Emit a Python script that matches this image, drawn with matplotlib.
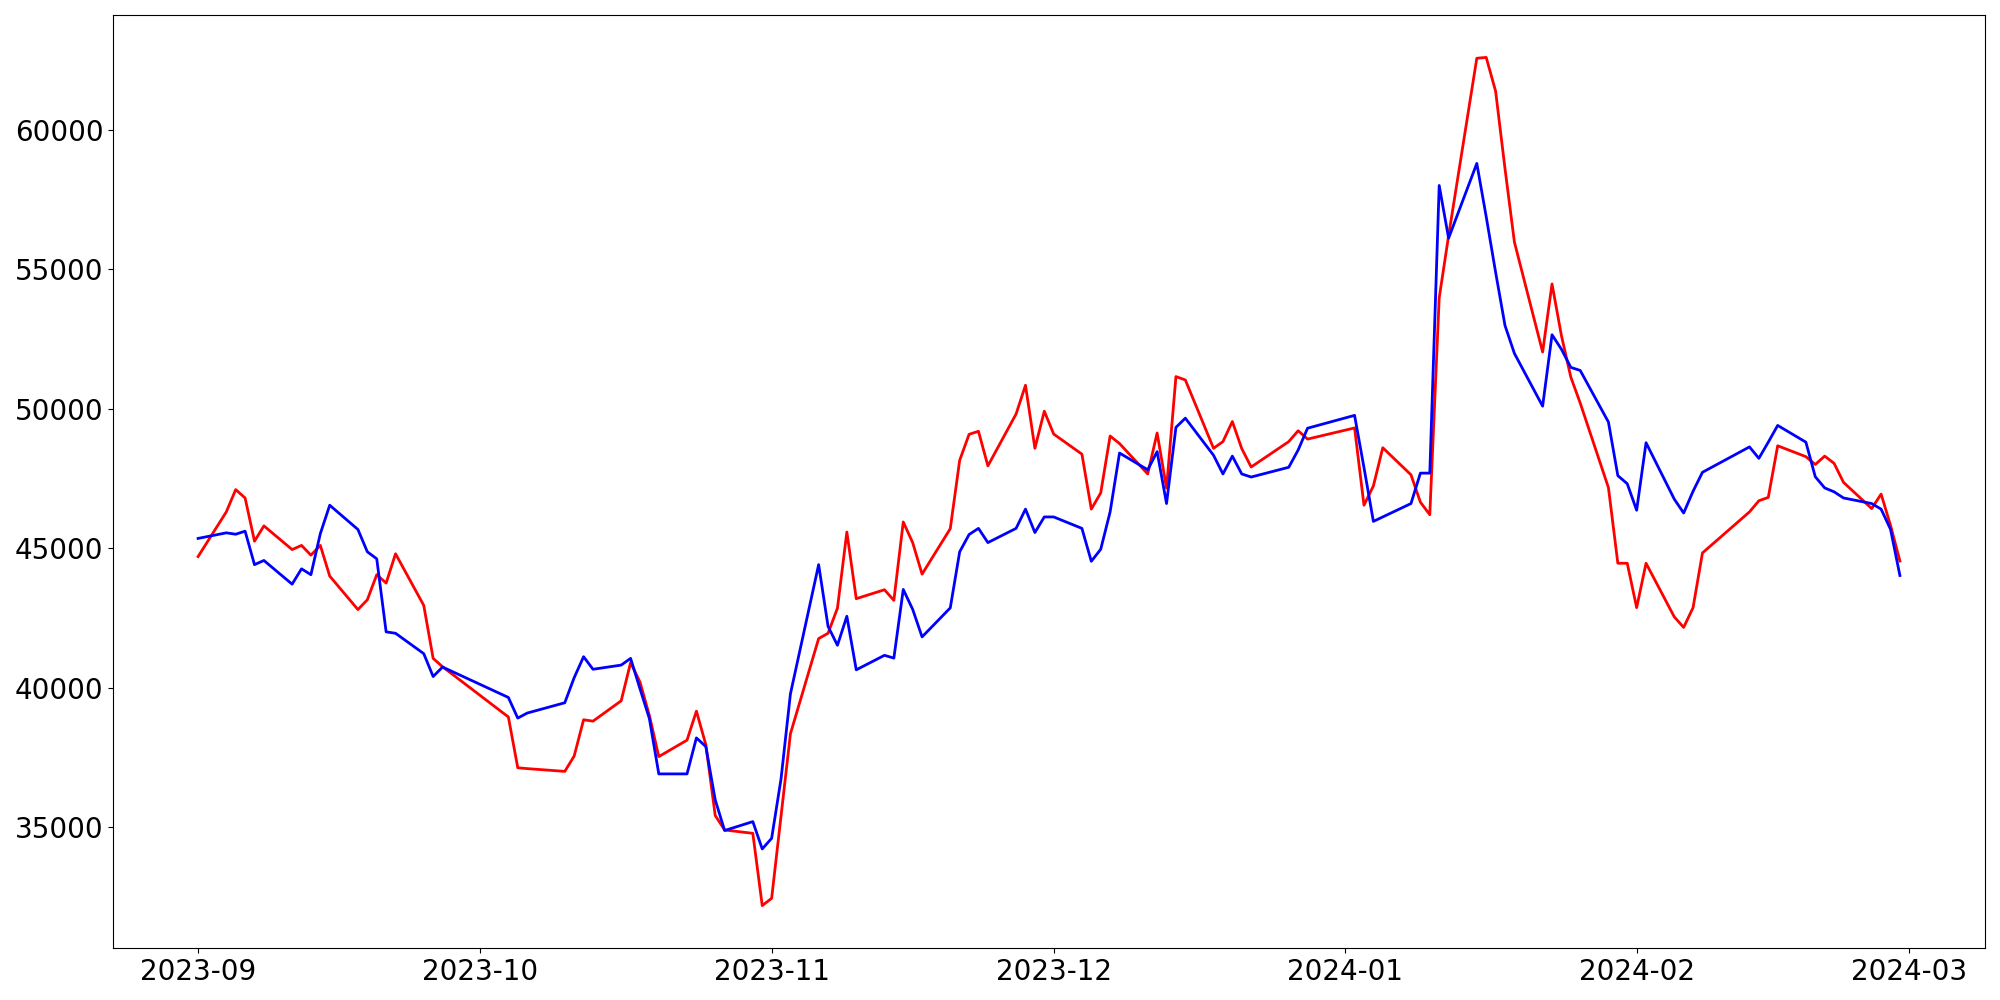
import pandas as pd
import numpy as np
import matplotlib
matplotlib.use("Agg")
import matplotlib.pyplot as plt
import matplotlib.dates as mdates

# trading days (KRX calendar): weekdays minus market holidays
start_date = "2023-09-01"
end_date = "2024-02-29"
holidays = ["2023-09-28", "2023-09-29", "2023-10-02", "2023-10-03", "2023-10-09",
            "2023-12-25", "2023-12-29", "2024-01-01", "2024-02-09", "2024-02-12"]

red_values = [
    # Sep
    44700, 46300, 47100, 46800, 45250, 45800, 44950, 45100, 44750, 45100,
    44000, 42800, 43150, 44050, 43750, 44800, 42950, 41050, 40750,
    # Oct
    38950, 37130, 37100, 37000, 37550, 38850, 38800, 39530, 40900, 40200,
    39000, 37530, 38120, 39160, 37960, 35420, 34900, 34780, 32190,
    # Nov
    32450, 35400, 38350, 41760, 41950, 42850, 45580, 43190, 43510, 43130,
    45940, 45200, 44070, 45700, 48150, 49080, 49190, 47950, 49810, 50840,
    48580, 49910,
    # Dec
    49090, 48370, 46400, 46980, 49020, 48750, 47660, 49130, 47150, 51150,
    51030, 48580, 48820, 49540, 48570, 47910, 48820, 49210, 48910,
    # Jan
    49310, 46540, 47230, 48600, 47630, 46650, 46200, 53970, 56200, 62560,
    62590, 61380, 58600, 55970, 52030, 54470, 52620, 51130, 50200, 47170,
    44460, 44460,
    # Feb
    42870, 44460, 42540, 42160, 42870, 44830, 46300, 46700, 46820, 48670,
    48280, 48000, 48300, 48040, 47360, 46420, 46940, 45820, 44540,
]

blue_values = [
    # Sep
    45350, 45550, 45500, 45610, 44410, 44560, 43710, 44260, 44050, 45520,
    46540, 45670, 44870, 44620, 42000, 41950, 41220, 40400, 40740,
    # Oct
    39650, 38910, 39090, 39460, 40360, 41110, 40660, 40810, 41050, 39960,
    38890, 36910, 36910, 38200, 37890, 35980, 34880, 35200, 34220,
    # Nov
    34600, 36730, 39780, 44410, 42200, 41520, 42560, 40640, 41160, 41060,
    43520, 42810, 41820, 42860, 44870, 45490, 45710, 45200, 45710, 46400,
    45560, 46120,
    # Dec
    46120, 45710, 44530, 44960, 46300, 48410, 47810, 48460, 46600, 49330,
    49660, 48330, 47660, 48300, 47660, 47550, 47900, 48520, 49300,
    # Jan
    49760, 47890, 45960, 46120, 46600, 47690, 47690, 58000, 56110, 58790,
    56880, 54890, 52980, 51980, 50090, 52650, 52130, 51480, 51370, 49520,
    47600, 47310,
    # Feb
    46360, 48780, 46760, 46260, 47040, 47720, 48630, 48220, 48800, 49400,
    48800, 47560, 47160, 47020, 46800, 46600, 46400, 45680, 44020,
]

dates = pd.bdate_range(start_date, end_date)
dates = dates[~dates.isin(pd.to_datetime(holidays))]

fig, ax = plt.subplots(figsize=(20, 10), dpi=100)
ax.plot(dates, red_values, color="red", linewidth=2)
ax.plot(dates, blue_values, color="blue", linewidth=2)

ax.xaxis.set_major_locator(mdates.MonthLocator())
ax.xaxis.set_major_formatter(mdates.DateFormatter("%Y-%m"))
ax.tick_params(axis="both", labelsize=20)

fig.subplots_adjust(left=0.0565, right=0.9925, top=0.985, bottom=0.052)
fig.savefig("out.png", dpi=100)
